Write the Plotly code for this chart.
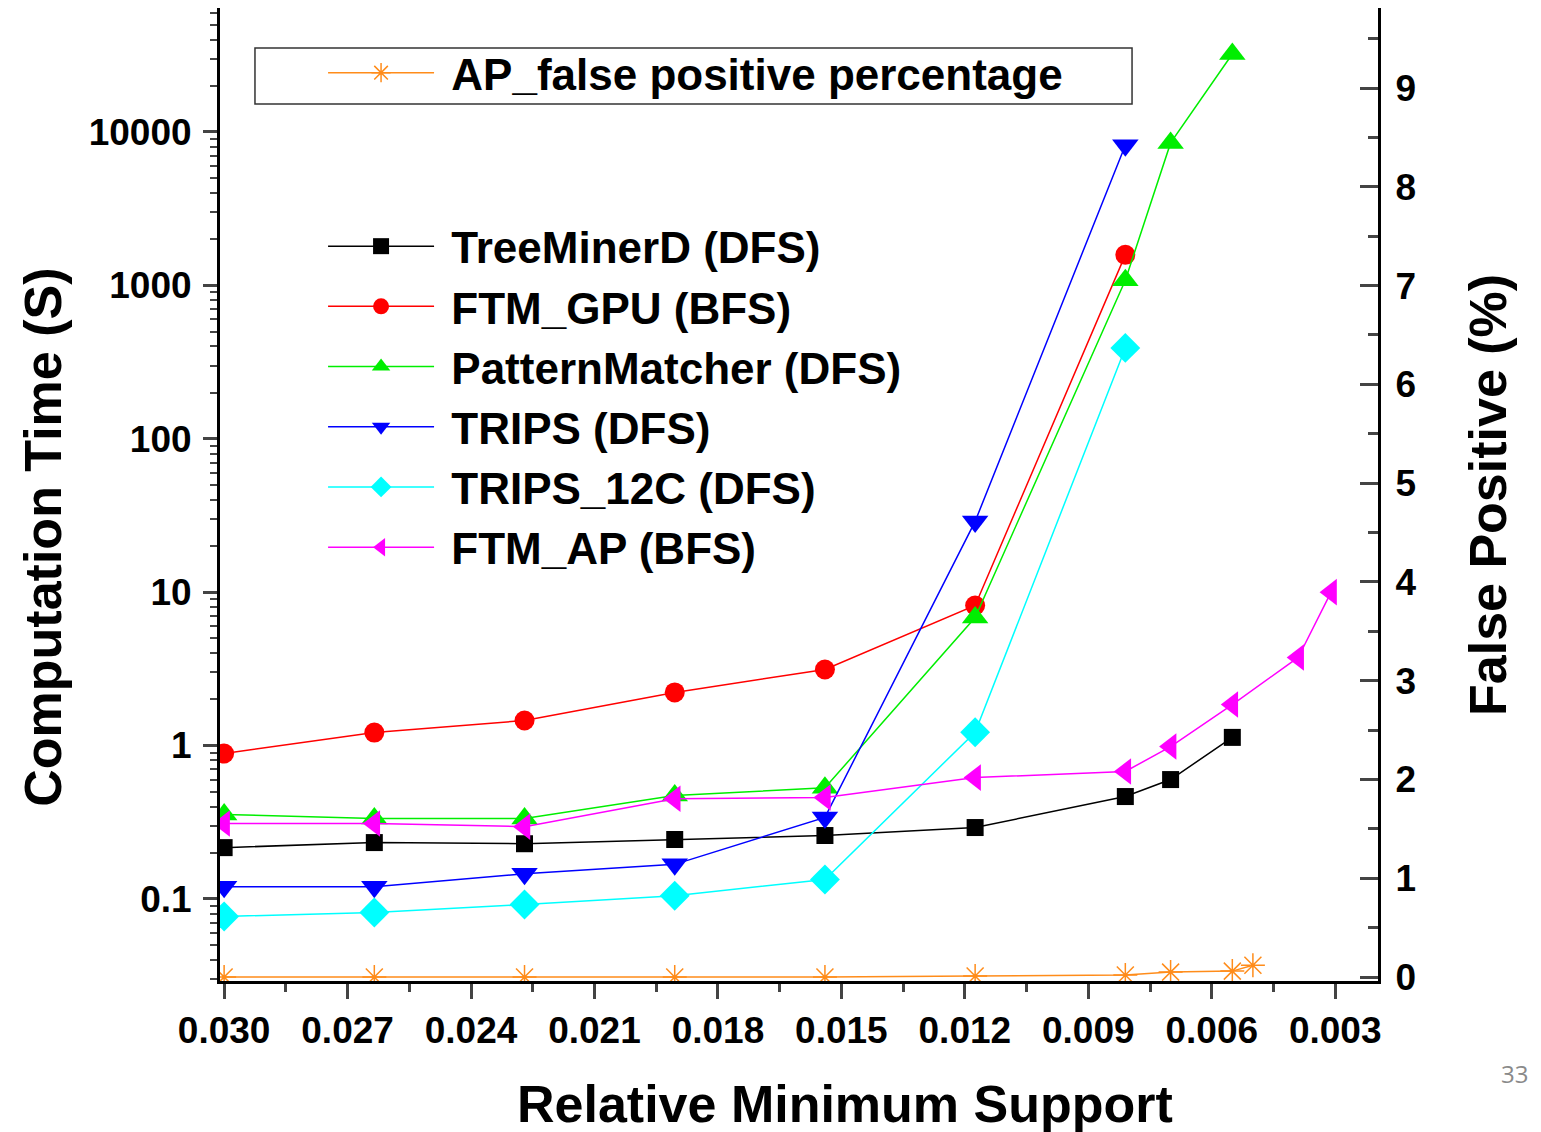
import plotly.graph_objects as go

# Relative minimum support values (x) for each series
x_main = [0.0300, 0.02635, 0.0227, 0.01905, 0.0154, 0.01175, 0.0081]
x_treeminer = [0.0300, 0.02635, 0.0227, 0.01905, 0.0154, 0.01175, 0.0081, 0.0070, 0.0055]
x_ftm_ap = [0.0300, 0.02635, 0.0227, 0.01905, 0.0154, 0.01175, 0.0081, 0.0070, 0.0055, 0.0039, 0.0031]
x_pm = [0.0300, 0.02635, 0.0227, 0.01905, 0.0154, 0.01175, 0.0081, 0.0070, 0.0055]
x_fp = [0.0300, 0.02635, 0.0227, 0.01905, 0.0154, 0.01175, 0.0081, 0.0070, 0.0055, 0.0050]

# Computation time (seconds)
t_treeminer = [0.216, 0.233, 0.229, 0.244, 0.259, 0.292, 0.465, 0.60, 1.13]
t_ftm_gpu = [0.887, 1.215, 1.456, 2.22, 3.13, 8.18, 1580]
t_pm = [0.355, 0.335, 0.335, 0.472, 0.53, 6.83, 1080, 8480, 32200]
t_trips = [0.12, 0.12, 0.146, 0.168, 0.34, 28.9, 8200]
t_trips12c = [0.0769, 0.0815, 0.092, 0.105, 0.134, 1.22, 391]
t_ftm_ap = [0.31, 0.31, 0.296, 0.45, 0.458, 0.618, 0.677, 0.985, 1.85, 3.75, 10.0]

# AP false positive percentage (%)
fp_pct = [0.0, 0.0, 0.0, 0.0, 0.0, 0.01, 0.02, 0.05, 0.06, 0.12]

FONT = "Liberation Sans, Arial, sans-serif"
GAP = "\u00a0"  # a little breathing room between legend key and label

series = [
    ("TreeMinerD (DFS)", x_treeminer, t_treeminer, "#000000", "square", 17),
    ("FTM_GPU (BFS)", x_main, t_ftm_gpu, "#FF0000", "circle", 20),
    ("PatternMatcher (DFS)", x_pm, t_pm, "#00EE00", "triangle-up", 23),
    ("TRIPS (DFS)", x_main, t_trips, "#0000FF", "triangle-down", 23),
    ("TRIPS_12C (DFS)", x_main, t_trips12c, "#00FFFF", "diamond", 23),
    ("FTM_AP (BFS)", x_ftm_ap, t_ftm_ap, "#FF00FF", "triangle-left", 23),
]

fig = go.Figure()

for name, xs, ys, color, symbol, size in series:
    fig.add_trace(go.Scatter(
        x=xs, y=ys, name=GAP + name, mode="lines+markers",
        line=dict(color=color, width=1.5),
        marker=dict(symbol=symbol, size=size, color=color, line=dict(width=0)),
        legend="legend",
    ))

fig.add_trace(go.Scatter(
    x=x_fp, y=fp_pct, name=GAP + "AP_false positive percentage", mode="lines+markers",
    line=dict(color="#FF8C1A", width=1.5),
    marker=dict(symbol="asterisk-open", size=20, color="#FF8C1A",
                line=dict(width=1.5, color="#FF8C1A")),
    yaxis="y2", legend="legend2",
))

tick_font = dict(family=FONT, size=37, color="black", weight="bold")

fig.update_layout(
    width=1541, height=1132,
    margin=dict(l=220, r=163, t=8, b=151),
    paper_bgcolor="white", plot_bgcolor="white",
    showlegend=True,
    xaxis=dict(
        range=[0.0301, 0.00196], tickmode="linear", tick0=0.003, dtick=0.003,
        tickformat=".3f", ticks="outside", ticklen=15, tickwidth=2.5,
        showline=True, linecolor="black", linewidth=3, showgrid=False, zeroline=False,
        tickfont=tick_font, ticklabelstandoff=0,
        minor=dict(ticks="outside", ticklen=8, tickwidth=2.5, dtick=0.0015,
                   tick0=0.0015, showgrid=False),
    ),
    yaxis=dict(
        type="log", range=[-1.535, 4.808],
        tickvals=[0.1, 1, 10, 100, 1000, 10000],
        ticktext=["0.1", "1", "10", "100", "1000", "10000"],
        ticks="outside", ticklen=14, tickwidth=2.5,
        showline=True, linecolor="black", linewidth=3, showgrid=False, zeroline=False,
        tickfont=tick_font, ticklabelstandoff=4,
        minor=dict(ticks="outside", ticklen=7, tickwidth=2, dtick="D1", showgrid=False),
    ),
    yaxis2=dict(
        overlaying="y", side="right", range=[-0.04, 9.81],
        tickmode="linear", tick0=0, dtick=1,
        ticks="inside", ticklen=18, tickwidth=2.5,
        showline=True, linecolor="black", linewidth=3, showgrid=False, zeroline=False,
        tickfont=tick_font, ticklabelstandoff=7,
        minor=dict(ticks="inside", ticklen=10, tickwidth=2.5, dtick=0.5, showgrid=False),
    ),
    legend=dict(
        x=0.089, y=0.7913, xanchor="left", yanchor="top",
        bgcolor="rgba(0,0,0,0)", borderwidth=0,
        font=dict(family=FONT, size=44, color="black", weight="bold"),
        itemwidth=106, tracegroupgap=0, itemsizing="trace",
    ),
    legend2=dict(
        x=0.089, y=0.9696, xanchor="left", yanchor="top",
        bgcolor="rgba(0,0,0,0)", borderwidth=0,
        font=dict(family=FONT, size=44, color="black", weight="bold"),
        itemwidth=106, itemsizing="trace",
    ),
    shapes=[dict(
        type="rect", xref="paper", yref="paper",
        x0=0.0302, x1=0.7876, y0=0.9013, y1=0.9589,
        line=dict(color="#333333", width=1.5), fillcolor="rgba(0,0,0,0)",
    )],
    annotations=[
        dict(text="Relative Minimum Support", xref="paper", yref="paper",
             x=0.5397, y=-0.1264, xanchor="center", yanchor="middle", showarrow=False,
             font=dict(family=FONT, size=52, color="black", weight="bold")),
        dict(text="Computation Time (S)", xref="paper", yref="paper",
             x=-0.1525, y=0.456, xanchor="center", yanchor="middle", textangle=-90,
             showarrow=False,
             font=dict(family=FONT, size=52, color="black", weight="bold")),
        dict(text="False Positive (%)", xref="paper", yref="paper",
             x=1.0950, y=0.4995, xanchor="center", yanchor="middle", textangle=-90,
             showarrow=False,
             font=dict(family=FONT, size=52, color="black", weight="bold")),
        dict(text="33", xref="paper", yref="paper",
             x=1.1183, y=-0.0946, xanchor="center", yanchor="middle", showarrow=False,
             font=dict(family="Open Sans, sans-serif", size=24, color="#8a8a8a")),
    ],
)

fig.write_html("out.html")
